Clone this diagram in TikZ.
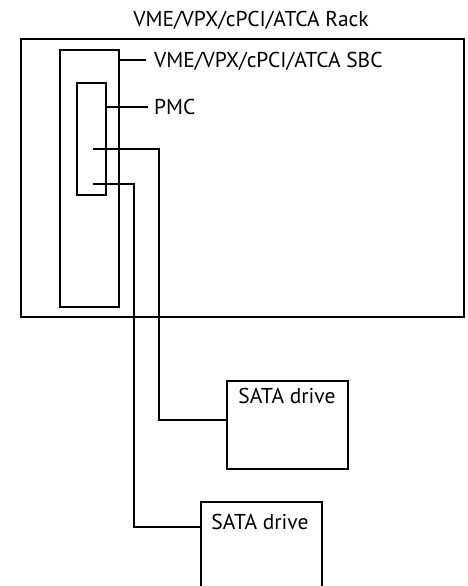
\documentclass[tikz,border=0pt]{standalone}
\usepackage{fontspec}
\setmainfont{PT Sans}
\begin{document}
\begin{tikzpicture}[x=1pt,y=-1pt,
  box/.style={draw,line width=2pt,inner sep=0pt,anchor=north west},
  wire/.style={draw,line width=2pt},
  lbl/.style={font=\fontsize{21.5}{21.5}\selectfont,inner sep=0pt}]
\useasboundingbox (0,0) rectangle (468,586);
\clip (0,0) rectangle (468,586);
% rack
\node[box,minimum width=443pt,minimum height=278pt] (rack) at (20,38) {};
\node[lbl] (racklbl) at (251,20) {VME/VPX/cPCI/ATCA Rack};
% SBC
\node[box,minimum width=59pt,minimum height=257pt] (sbc) at (59,49) {};
\node[lbl,anchor=west] (sbclbl) at (154,61) {VME/VPX/cPCI/ATCA SBC};
\draw[wire] (sbc.east |- 0,60) -- (146,60);
% PMC
\node[box,minimum width=29pt,minimum height=112pt] (pmc) at (76,82) {};
\node[lbl,anchor=west] (pmclbl) at (154,107) {PMC};
\draw[wire] (pmc.east |- 0,107) -- (148,107);
% drives
\node[box,minimum width=121pt,minimum height=88pt] (d1) at (226,380) {};
\node[lbl] (d1lbl) at (287,396) {SATA drive};
\node[box,minimum width=121pt,minimum height=120pt] (d2) at (200,501) {};
\node[lbl] (d2lbl) at (260,522) {SATA drive};
% connectors
\coordinate (c1) at (93,149);
\coordinate (c2) at (93,184);
\draw[wire] (c1) -| (159,420) -- (d1.west |- 0,420);
\draw[wire] (c2) -| (134,527) -- (d2.west |- 0,527);
\end{tikzpicture}
\end{document}
